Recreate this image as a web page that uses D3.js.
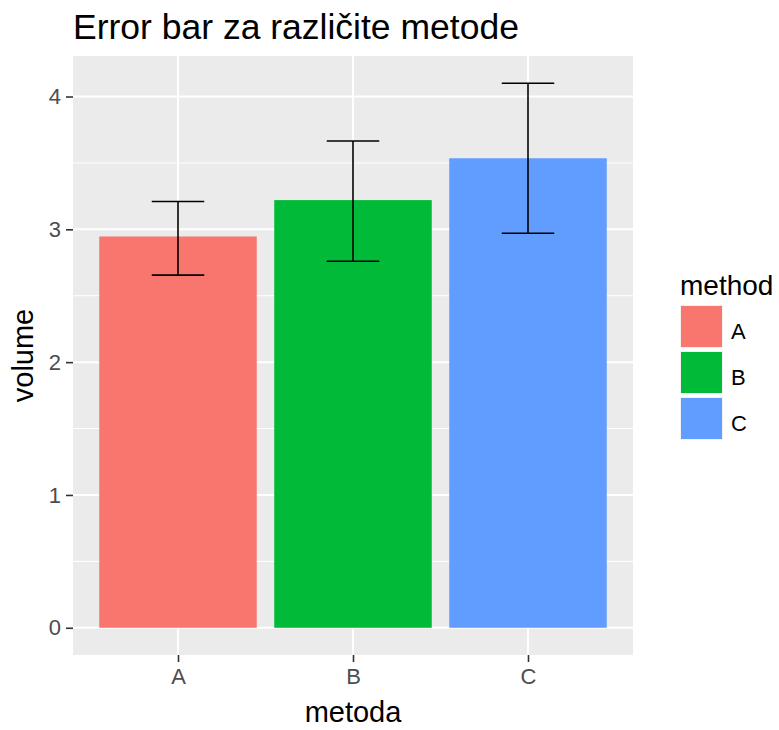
<!DOCTYPE html>
<html>
<head>
<meta charset="utf-8">
<script src="https://cdn.jsdelivr.net/npm/d3@7"></script>
<style>
    body { margin: 0; background: #fff; }
    svg { font-family: "Liberation Sans", Arial, sans-serif; }
</style>
</head>
<body>
<svg width="779" height="730"></svg>
<script>
var methods = ["A", "B", "C"];
var volumes = [2.946, 3.22, 3.535];
var lowers = [2.655, 2.76, 2.97];
var uppers = [3.21, 3.665, 4.10];
var yTicks = [0, 1, 2, 3, 4];
var colors = ["#F8766D", "#00BA38", "#619CFF"];

var svg = d3.select("svg"),
    margin = {top: 56, right: 146, bottom: 75, left: 73},
    width = 779 - margin.left - margin.right,
    height = 730 - margin.top - margin.bottom;

var data = methods.map(function(m, i) {
    return {method: m, volume: volumes[i], lo: lowers[i], hi: uppers[i]};
});

// ggplot-like discrete scale: 0.6 expansion each side
var x = d3.scaleLinear().domain([0.4, methods.length + 0.6]).range([0, width]);
var ymax = d3.max(uppers), pad = ymax * 0.05;
var y = d3.scaleLinear().domain([-pad, ymax + pad]).range([height, 0]);
var color = d3.scaleOrdinal().domain(methods).range(colors);

var g = svg.append("g")
    .attr("transform", "translate(" + margin.left + "," + margin.top + ")");

g.append("rect")
    .attr("width", width)
    .attr("height", height)
    .attr("fill", "#EBEBEB");

// minor grid
var minor = d3.range(0.5, ymax + pad, 1);
g.selectAll(".minor")
    .data(minor)
    .enter().append("line")
        .attr("x1", 0).attr("x2", width)
        .attr("y1", function(d) { return y(d); })
        .attr("y2", function(d) { return y(d); })
        .attr("stroke", "#fff").attr("stroke-width", 1);

g.selectAll(".hgrid")
    .data(yTicks)
    .enter().append("line")
        .attr("x1", 0).attr("x2", width)
        .attr("y1", function(d) { return y(d); })
        .attr("y2", function(d) { return y(d); })
        .attr("stroke", "#fff").attr("stroke-width", 2);

g.selectAll(".vgrid")
    .data(methods)
    .enter().append("line")
        .attr("x1", function(d, i) { return x(i + 1); })
        .attr("x2", function(d, i) { return x(i + 1); })
        .attr("y1", 0).attr("y2", height)
        .attr("stroke", "#fff").attr("stroke-width", 2);

g.selectAll(".bar")
    .data(data)
    .enter().append("rect")
        .attr("class", "bar")
        .attr("x", function(d, i) { return x(i + 1 - 0.45); })
        .attr("width", x(0.9) - x(0))
        .attr("y", function(d) { return y(d.volume); })
        .attr("height", function(d) { return y(0) - y(d.volume); })
        .attr("fill", function(d) { return color(d.method); });

// error bars
var eb = g.selectAll(".err")
    .data(data)
    .enter().append("g")
        .attr("stroke", "#000")
        .attr("stroke-width", 1.6)
        .attr("fill", "none");
eb.append("line")
    .attr("x1", function(d, i) { return x(i + 1); })
    .attr("x2", function(d, i) { return x(i + 1); })
    .attr("y1", function(d) { return y(d.lo); })
    .attr("y2", function(d) { return y(d.hi); });
eb.append("line")
    .attr("x1", function(d, i) { return x(i + 1 - 0.15); })
    .attr("x2", function(d, i) { return x(i + 1 + 0.15); })
    .attr("y1", function(d) { return y(d.hi); })
    .attr("y2", function(d) { return y(d.hi); });
eb.append("line")
    .attr("x1", function(d, i) { return x(i + 1 - 0.15); })
    .attr("x2", function(d, i) { return x(i + 1 + 0.15); })
    .attr("y1", function(d) { return y(d.lo); })
    .attr("y2", function(d) { return y(d.lo); });

// axes
var yAxis = d3.axisLeft(y).tickValues(yTicks).tickFormat(d3.format("d"))
    .tickSize(7).tickPadding(5);
var xAxis = d3.axisBottom(x).tickValues([1, 2, 3])
    .tickFormat(function(d) { return methods[d - 1]; })
    .tickSize(7).tickPadding(6);

var ya = g.append("g").call(yAxis);
var xa = g.append("g").attr("transform", "translate(0," + height + ")").call(xAxis);
[ya, xa].forEach(function(a) {
    a.select(".domain").remove();
    a.selectAll(".tick line").attr("stroke", "#333").attr("stroke-width", 1.6);
    a.selectAll(".tick text")
        .attr("fill", "#4D4D4D")
        .style("font-size", "22px")
        .style("font-family", "Liberation Sans, Arial, sans-serif");
});

// titles
svg.append("text")
    .attr("x", margin.left)
    .attr("y", 39)
    .style("font-size", "35.5px")
    .attr("fill", "#000")
    .text("Error bar za različite metode");

svg.append("text")
    .attr("x", margin.left + width / 2)
    .attr("y", 722)
    .attr("text-anchor", "middle")
    .style("font-size", "29px")
    .text("metoda");

svg.append("text")
    .attr("transform", "translate(33," + (margin.top + height / 2) + ") rotate(-90)")
    .attr("text-anchor", "middle")
    .style("font-size", "29px")
    .text("volume");

// legend
var leg = svg.append("g").attr("transform", "translate(680,0)");
leg.append("text")
    .attr("x", 0)
    .attr("y", 295)
    .style("font-size", "28px")
    .text("method");
var items = leg.selectAll(".item")
    .data(methods)
    .enter().append("g")
        .attr("transform", function(d, i) { return "translate(0," + (305 + i * 46) + ")"; });
items.append("rect")
    .attr("width", 43).attr("height", 43)
    .attr("fill", "#F2F2F2");
items.append("rect")
    .attr("x", 1).attr("y", 1)
    .attr("width", 41).attr("height", 41)
    .attr("fill", function(d) { return color(d); });
items.append("text")
    .attr("x", 51)
    .attr("y", 34)
    .style("font-size", "22px")
    .text(function(d) { return d; });
</script>
</body>
</html>
